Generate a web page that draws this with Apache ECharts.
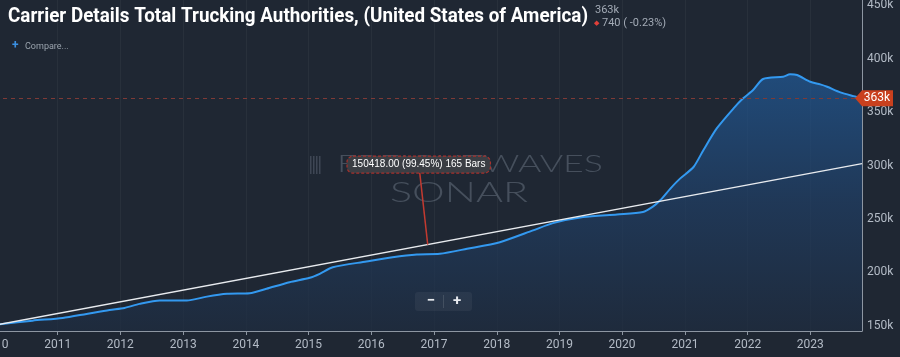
<!DOCTYPE html>
<html><head><meta charset="utf-8">
<script src="https://cdn.jsdelivr.net/npm/echarts@6/dist/echarts.min.js"></script>
<style>html,body{margin:0;padding:0;background:#1f2733;}#c{width:900px;height:357px;}</style>
</head><body><div id="c"></div>
<script>
// ---- data ----
const dates = ['2010-01-28','2010-08-08','2011-01-30','2011-06-18','2011-10-30','2012-01-25','2012-04-22','2012-08-18',
  '2013-01-22','2013-05-19','2013-09-13','2014-01-23','2014-05-01','2014-09-12','2015-01-08','2015-03-07','2015-05-22',
  '2015-12-04','2016-05-04','2016-09-23','2017-02-03','2017-07-12','2018-01-19','2018-07-31','2018-11-24','2019-05-19',
  '2019-12-02','2020-05-01','2020-06-28','2020-08-10','2020-10-08','2020-12-03','2021-02-20','2021-04-18','2021-07-05',
  '2021-10-11','2021-12-06','2022-02-02','2022-04-01','2022-07-27','2022-09-05','2022-10-16','2023-01-01','2023-02-28',
  '2023-04-09','2023-06-25','2023-09-10','2023-10-29'];
const values = [151200,154700,157200,161000,164700,166600,170400,173500,
  173500,177200,179800,180300,184500,190700,194800,198500,204700,
  210100,214100,216700,217300,222000,228200,239200,246000,251700,
  254200,256400,261500,267400,278400,287700,298600,314300,334700,
  353500,362900,370700,381000,383200,385400,384700,378400,376000,
  373800,368500,365000,363000];
const trendDates = ['2010-01-28','2023-10-29'];
const trendValues = [151250,301668];
const axisStart = '2010-01-01';
const axisEnd = '2023-10-29';
const yMin = 145000, yMax = 455000, yStep = 5000, yLabelStep = 50000;
const titleText = 'Carrier Details Total Trucking Authorities, (United States of America)';
const lastText = '363k';
const changeText = '740 ( -0.23%)';
const compareText = 'Compare...';
const measureLabel = '150418.00 (99.45%) 165 Bars';
const measureDate = '2016-11-25';
const watermark1 = 'FREIGHTWAVES';
const watermark2 = 'SONAR';

// ---- chart ----
const chart = echarts.init(document.getElementById('c'), null, {renderer:'canvas'});
const ctx = document.createElement('canvas').getContext('2d');
function tw(font, text){ ctx.font = font; return ctx.measureText(text).width; }

const option = {
  backgroundColor:'#1f2733',
  animation:false,
  grid:{left:-5, right:38, top:0, bottom:26, containLabel:false, outerBoundsMode:'none'},
  xAxis:{
    type:'time', min:axisStart, max:axisEnd,
    minInterval:365*24*3600*1000, maxInterval:366*24*3600*1000,
    axisLine:{show:true, lineStyle:{color:'#8d96a2', width:1}},
    axisTick:{show:true, length:4, lineStyle:{color:'#8d96a2'}},
    axisLabel:{color:'#b3bbc6', fontSize:12, fontFamily:'Roboto', margin:8, showMinLabel:true,
      formatter:(v)=>String(new Date(v).getFullYear())},
    splitLine:{show:true, lineStyle:{color:'rgba(255,255,255,0.045)', width:1}}
  },
  yAxis:{
    type:'value', position:'right', min:yMin, max:yMax, interval:yStep,
    axisLine:{show:true, lineStyle:{color:'#8d96a2', width:1}},
    axisTick:{show:false},
    axisLabel:{color:'#b3bbc6', fontSize:12, fontFamily:'Roboto', margin:5,
      formatter:(v)=> (v % yLabelStep === 0) ? (v/1000)+'k' : ''},
    splitLine:{show:false}
  },
  series:[
    {type:'line', data:dates.map((d,i)=>[d,values[i]]), smooth:0.25, symbol:'none',
      lineStyle:{color:'#3399f0', width:2},
      areaStyle:{color:new echarts.graphic.LinearGradient(0,0,0,1,[
        {offset:0,color:'#215a98'},{offset:0.5,color:'#203f66'},{offset:1,color:'#1e2c40'}])},
      markLine:{silent:true, symbol:['none','none'], animation:false,
        lineStyle:{color:'#7e3a36', type:[4,4], width:1},
        label:{show:false},
        data:[{yAxis:values[values.length-1]}]},
      z:2},
    {type:'line', data:trendDates.map((d,i)=>[d,trendValues[i]]), symbol:'none',
      lineStyle:{color:'#e8ebef', width:1.3}, z:3}
  ]
};
chart.setOption(option);

// ---- overlays computed through the chart scales ----
const lastPt = chart.convertToPixel({seriesIndex:0},[dates[dates.length-1], values[values.length-1]]);
const t0 = new Date(trendDates[0]).getTime(), t1 = new Date(trendDates[1]).getTime(), tm = new Date(measureDate).getTime();
const measureVal = trendValues[0] + (trendValues[1]-trendValues[0])*(tm-t0)/(t1-t0);
const anchor = chart.convertToPixel({seriesIndex:1},[measureDate, measureVal]);

const titleFont = 'bold 20px Roboto';
const titleScale = 580 / tw(titleFont, titleText);
const wmFont = '300 24px Lato';
const wm1Scale = 266 / tw(wmFont, watermark1);
const wmFont2 = '300 27px Lato';
const wm2Scale = 138 / tw(wmFont2, watermark2);
const mFont = '10px "Liberation Sans", Arial';
const mW = tw(mFont, measureLabel) + 10;
const boxCx = anchor[0]-9, boxCy = anchor[1]-80;

const bars = [];
[0,3,6,9].forEach(dx=>bars.push({type:'rect', shape:{x:310+dx, y:156, width:1.5, height:18},
  style:{fill:'rgba(120,130,145,0.35)'}}));

chart.setOption({graphic:[
  // watermark
  {type:'group', silent:true, z:1, children:bars.concat([
    {type:'text', x:337, y:164, scaleX:wm1Scale, style:{text:watermark1, font:wmFont, fill:'rgba(125,135,150,0.42)', verticalAlign:'middle', align:'left'}},
    {type:'text', x:390, y:193, scaleX:wm2Scale, style:{text:watermark2, font:wmFont2, fill:'rgba(125,135,150,0.42)', verticalAlign:'middle', align:'left'}}
  ])},
  // header
  {type:'text', x:8, y:7, scaleX:titleScale, z:10, style:{text:titleText, font:titleFont, fill:'#ffffff', verticalAlign:'top'}},
  {type:'text', x:595, y:5, z:10, style:{text:lastText, font:'11px Roboto', fill:'#a3abb6', verticalAlign:'top'}},
  {type:'text', x:594, y:20, z:10, style:{text:'\u25C6', font:'7px Roboto', fill:'#e0403a', verticalAlign:'top'}},
  {type:'text', x:602, y:18, z:10, style:{text:changeText, font:'11px Roboto', fill:'#a3abb6', verticalAlign:'top'}},
  {type:'text', x:12, y:40, z:10, style:{text:'+', font:'bold 12px Roboto', fill:'#3b8fe0', verticalAlign:'top'}},
  {type:'text', x:25, y:42, z:10, style:{text:compareText, font:'9px Roboto', fill:'#9aa3ad', verticalAlign:'top'}},
  // measure annotation
  {type:'line', z:20, shape:{x1:anchor[0], y1:anchor[1], x2:boxCx+1, y2:boxCy+8}, style:{stroke:'#c23a30', lineWidth:1.5}},
  {type:'rect', z:21, shape:{x:boxCx-mW/2, y:boxCy-8.5, width:mW, height:17, r:6},
    style:{fill:'#3b3e44', stroke:'#a8312c', lineWidth:1.2, lineDash:[3,2]}},
  {type:'text', z:22, x:boxCx, y:boxCy, style:{text:measureLabel, font:mFont, fill:'#ffffff', align:'center', verticalAlign:'middle'}},
  // zoom buttons
  {type:'rect', z:15, shape:{x:415, y:292, width:57, height:19, r:3}, style:{fill:'rgba(255,255,255,0.05)'}},
  {type:'rect', z:15, shape:{x:443, y:295, width:1, height:13}, style:{fill:'rgba(255,255,255,0.12)'}},
  {type:'text', z:16, x:431, y:301, style:{text:'\u2212', font:'bold 15px Roboto', fill:'#e6e9ee', align:'center', verticalAlign:'middle'}},
  {type:'text', z:16, x:457, y:301, style:{text:'+', font:'bold 15px Roboto', fill:'#e6e9ee', align:'center', verticalAlign:'middle'}},
  // last price tag
  {type:'polygon', z:30, shape:{points:[[lastPt[0]-7,lastPt[1]],[lastPt[0],lastPt[1]-8],[lastPt[0]+31,lastPt[1]-8],[lastPt[0]+31,lastPt[1]+8],[lastPt[0],lastPt[1]+8]]},
    style:{fill:'#c9401e'}},
  {type:'text', z:31, x:lastPt[0]+15, y:lastPt[1], style:{text:lastText, font:'12px Roboto', fill:'#ffffff', align:'center', verticalAlign:'middle'}}
]});
</script></body></html>
